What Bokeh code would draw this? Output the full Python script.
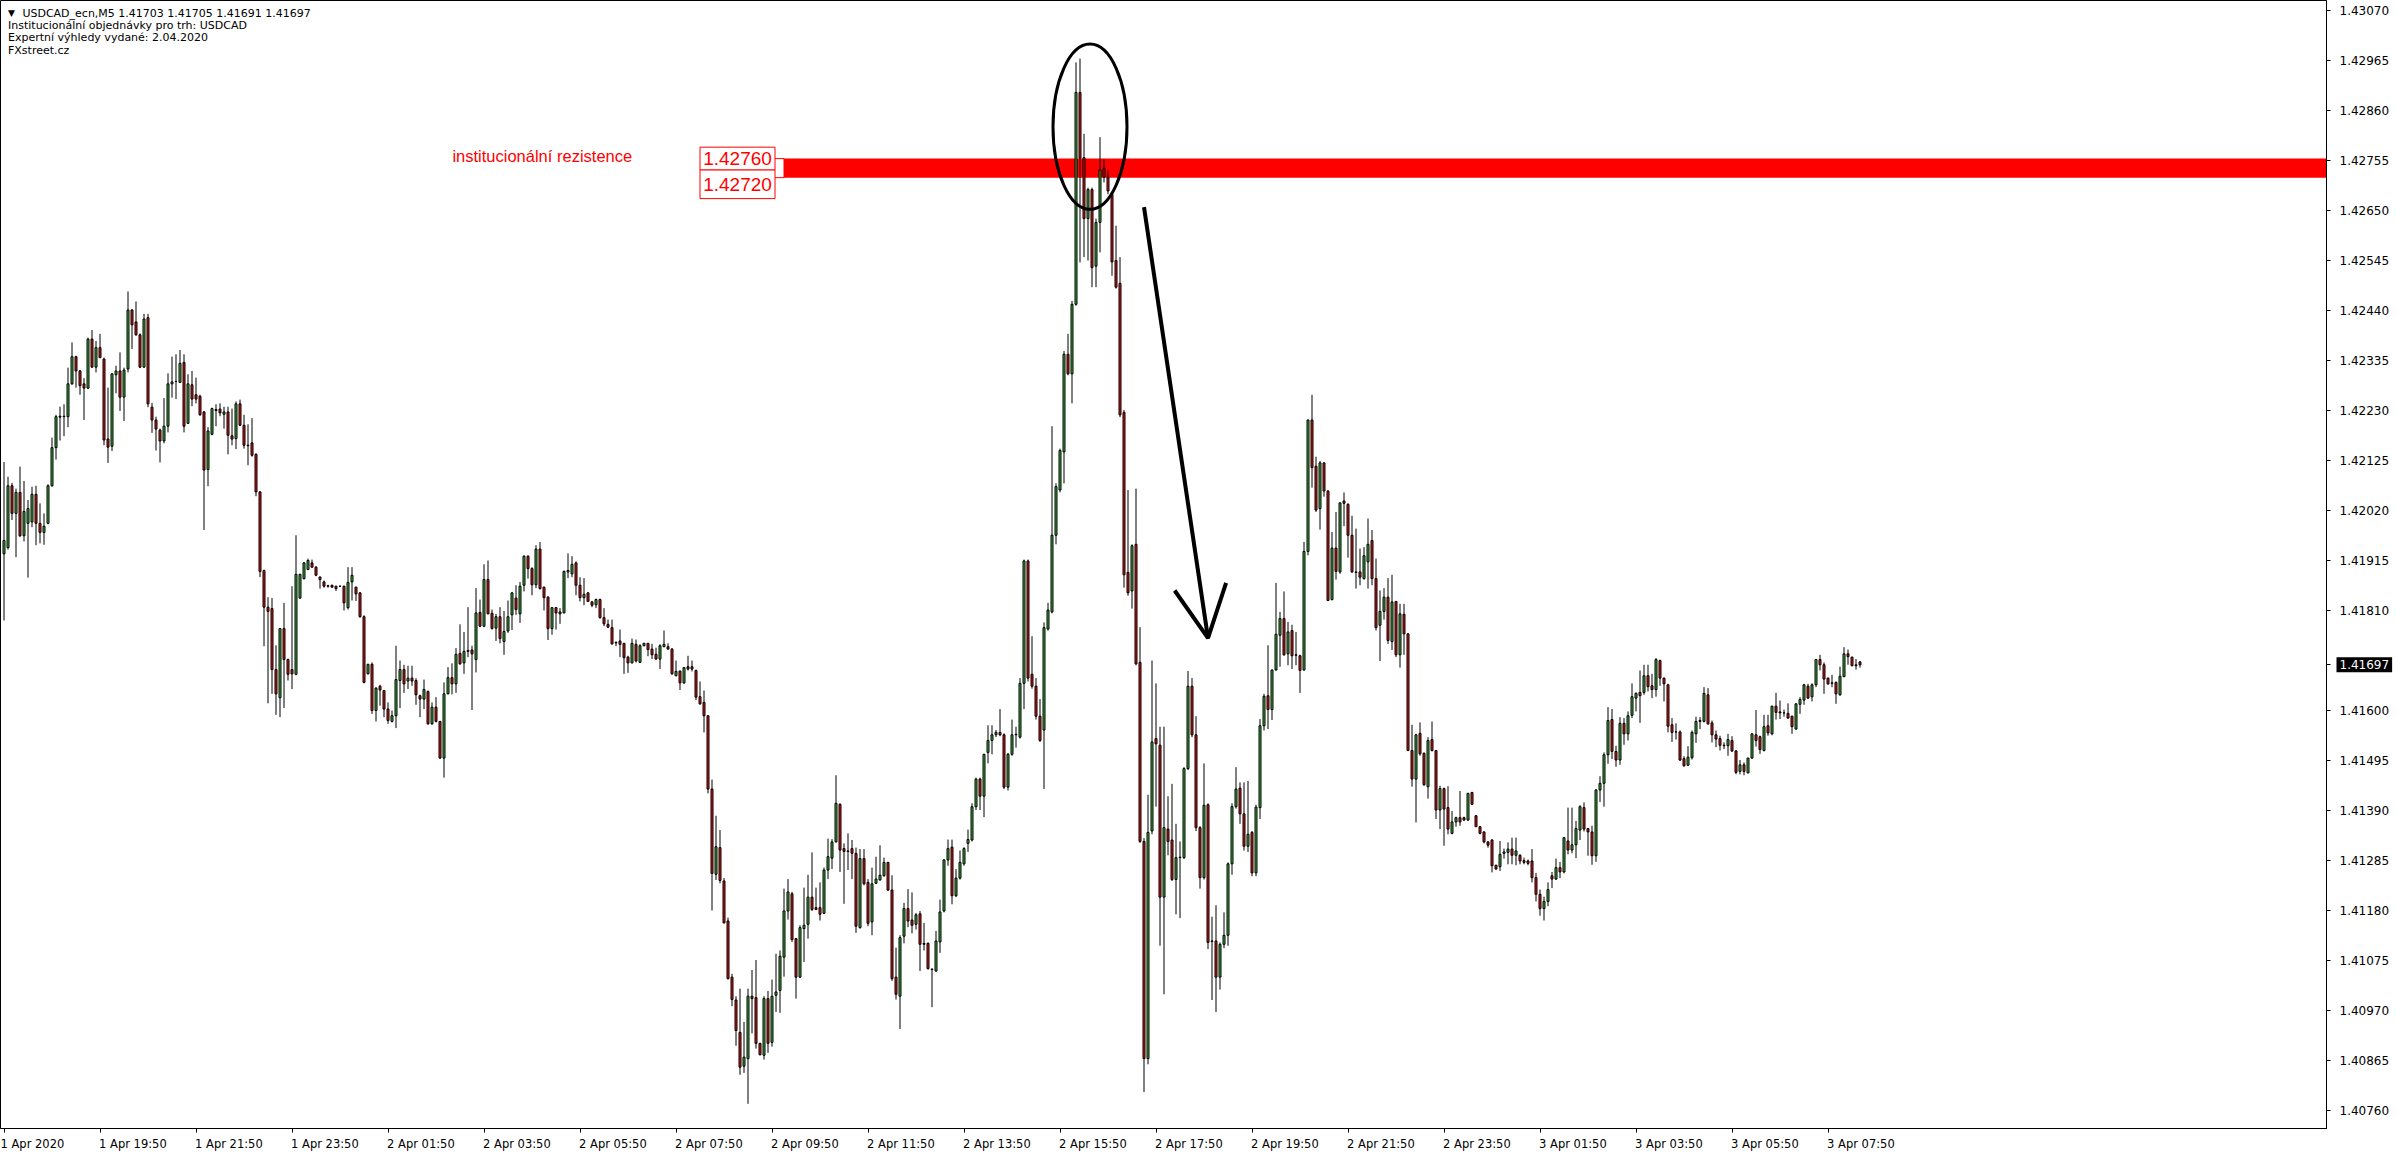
import numpy as np
from bokeh.plotting import figure
from bokeh.models import Range1d, FixedTicker, PrintfTickFormatter, Arrow, OpenHead, ColumnDataSource, Label
from bokeh.core.properties import value
from bokeh.embed import file_html
from bokeh.resources import INLINE

# ---- data: USDCAD M5 candles, prices in points (1e-5) ----
open_pts = [
141930,141943,142073,142015,142059,141968,141994,141997,142055,141994,
141975,141994,142073,142153,142217,142218,142218,142287,142344,142314,
142287,142278,142381,142322,142363,142339,142171,142156,142306,142314,
142259,142318,142442,142417,142390,142322,142426,142238,142211,142190,
142167,142198,142287,142292,142290,142332,142204,142285,142264,142261,
142228,142107,142181,142231,142234,142223,142228,142178,142172,142245,
142200,142158,142163,142139,142060,141895,141818,141815,141687,141628,
141773,141708,141687,141677,141837,141878,141897,141911,141902,141881,
141871,141863,141864,141862,141862,141862,141817,141871,141860,141848,
141798,141678,141698,141601,141652,141643,141604,141578,141590,141664,
141687,141663,141669,141664,141632,141625,141641,141573,141608,141578,
141501,141636,141670,141657,141721,141701,141727,141728,141708,141807,
141778,141876,141805,141774,141798,141746,141768,141802,141837,141804,
141864,141925,141899,141865,141940,141860,141839,141773,141817,141808,
141806,141892,141888,141911,141864,141838,141848,141829,141823,141834,
141796,141782,141775,141744,141747,141742,141713,141701,141740,141702,
141737,141742,141730,141719,141709,141735,141735,141730,141674,141684,
141659,141693,141693,141685,141630,141618,141590,141436,141257,141313,
141243,141159,141041,140993,140925,140854,140870,141001,140998,140902,
140877,140996,140904,141003,141013,141083,141180,141216,141122,141041,
141143,141152,141209,141187,141187,141175,141266,141291,141325,141404,
141311,141306,141311,141301,141145,141290,141240,141157,141238,141245,
141254,141282,141224,141041,141001,141127,141185,141161,141152,141174,
141112,141112,141058,141054,141115,141180,141287,141314,141212,141249,
141279,141322,141329,141399,141457,141421,141513,141538,141550,141555,
141550,141440,141509,141550,141545,141658,141915,141677,141652,141589,
141560,141772,141808,141969,142064,142144,142349,142308,142454,142899,
142762,142634,142695,142534,142626,142739,142721,142685,142546,142498,
142227,141891,141852,141950,141702,141326,140870,141348,141542,141528,
141209,141352,141329,141246,141292,141292,141479,141652,141550,141355,
141250,141403,141117,141117,141041,141110,141129,141279,141399,141438,
141384,141316,141345,141260,141397,141569,141632,141603,141686,141759,
141794,141720,141769,141718,141716,141686,141935,142211,142114,142025,
142121,142062,141834,141942,141892,142041,142034,141969,141892,141892,
141878,141913,141958,141878,141780,141809,141839,141746,141830,141718,
141803,141762,141517,141457,141553,141511,141441,141540,141517,141392,
141437,141397,141343,141367,141376,141376,141371,141429,141380,141357,
141346,141325,141329,141276,141273,141301,141303,141310,141297,141297,
141286,141285,141285,141250,141215,141185,141200,141254,141247,141271,
141262,141327,141308,141319,141350,141397,141353,141346,141296,141434,
141448,141508,141582,141515,141497,141574,141552,141591,141627,141639,
141639,141674,141653,141645,141706,141669,141655,141571,141556,141556,
141500,141486,141502,141552,141578,141578,141634,141575,141550,141542,
141528,141527,141538,141516,141473,141487,141470,141501,141550,141546,
141517,141569,141552,141610,141598,141596,141595,141589,141562,141614,
141623,141652,141630,141655,141708,141697,141669,141659,141660,141634,
141672,141720,141713,141695,141703]

high_pts = [
142123,142092,142079,142067,142113,142083,142043,142071,142073,142036,
142015,142076,142174,142222,142239,142244,142321,142374,142346,142316,
142299,142384,142400,142377,142392,142342,142279,142309,142325,142353,
142321,142481,142444,142460,142393,142434,142434,142247,142218,142193,
142257,142309,142344,142349,142358,142349,142307,142314,142300,142264,
142230,142196,142237,142244,142246,142239,142239,142235,142250,142254,
142222,142202,142215,142141,142062,141897,141839,141837,141738,141774,
141827,141710,141862,141969,141888,141913,141920,141918,141904,141883,
141874,141865,141865,141863,141863,141863,141902,141902,141861,141850,
141801,141699,141702,141650,141655,141644,141618,141601,141737,141706,
141697,141695,141695,141669,141634,141666,141643,141618,141629,141579,
141660,141692,141700,141732,141782,141766,141818,141737,141858,141834,
141908,141916,141813,141804,141818,141810,141832,141850,141864,141871,
141927,141927,141902,141948,141955,141861,141841,141818,141818,141816,
141895,141931,141925,141914,141881,141879,141850,141831,141836,141836,
141816,141792,141792,141746,141771,141743,141716,141752,141750,141740,
141743,141743,141741,141733,141740,141769,141742,141732,141706,141684,
141692,141716,141706,141687,141662,141643,141591,141456,141380,141350,
141249,141166,141048,141001,141017,140947,141017,141056,141077,140903,
141001,141012,141036,141090,141097,141227,141247,141220,141123,141150,
141229,141256,141303,141229,141240,141271,141332,141331,141465,141406,
141322,141343,141329,141313,141310,141310,141247,141271,141294,141318,
141292,141283,141255,141103,141129,141197,141226,141219,141176,141180,
141155,141114,141059,141138,141204,141289,141330,141330,141268,141307,
141314,141351,141406,141460,141460,141510,141570,141570,141560,141604,
141553,141512,141582,141567,141669,141918,141918,141757,141669,141625,
141786,141827,142198,142078,142151,142356,142392,142461,142962,142970,
142812,142699,142699,142634,142805,142758,142736,142689,142619,142553,
142232,142064,141950,142067,141776,141333,141424,141706,141658,141567,
141567,141421,141447,141363,141326,141482,141684,141669,141589,141358,
141490,141406,141168,141192,141114,141177,141282,141406,141482,141450,
141450,141453,141348,141403,141583,141636,141738,141687,141869,141808,
141851,141787,141781,141766,141718,141955,142212,142264,142134,142125,
142122,142063,141976,142018,142038,142059,142036,142010,141983,141941,
141944,142004,141980,141920,141853,141858,141879,141886,141831,141825,
141825,141763,141571,141552,141576,141513,141545,141578,141518,141443,
141439,141442,141390,141378,141432,141378,141428,141430,141381,141358,
141347,141327,141331,141277,141327,141311,141324,141334,141334,141299,
141292,141288,141310,141260,141225,141210,141240,141262,141290,141283,
141335,141397,141397,141369,141402,141408,141354,141359,141436,141463,
141513,141608,141604,141527,141587,141585,141599,141658,141639,141685,
141697,141697,141678,141711,141708,141670,141657,141585,141574,141559,
141505,141526,141559,141588,141587,141650,141648,141580,141559,141548,
141534,141552,141547,141518,141497,141492,141502,141553,141602,141548,
141592,141592,141611,141638,141622,141603,141616,141590,141616,141629,
141657,141657,141658,141709,141718,141702,141670,141676,141662,141693,
141734,141729,141714,141709,141705]

low_pts = [
141790,141939,142001,141923,141965,141956,141880,141986,141948,141952,
141949,141992,142071,142128,142168,142177,142196,142285,142279,142264,
142211,142276,142321,142311,142341,142158,142121,142146,142267,142230,
142209,142311,142360,142388,142320,142321,142238,142184,142147,142122,
142162,142185,142258,142255,142289,142185,142203,142240,142246,142220,
141980,142072,142179,142198,142219,142193,142139,142158,142150,142199,
142151,142116,142134,142051,141881,141736,141616,141636,141592,141587,
141606,141664,141646,141675,141836,141876,141896,141901,141883,141857,
141859,141859,141859,141852,141861,141811,141813,141832,141831,141796,
141658,141677,141594,141578,141611,141587,141573,141576,141564,141606,
141638,141646,141653,141613,141587,141604,141571,141571,141576,141500,
141460,141635,141635,141638,141697,141678,141713,141602,141681,141776,
141776,141803,141771,141747,141742,141718,141764,141770,141802,141785,
141851,141878,141843,141858,141855,141811,141749,141760,141771,141783,
141805,141879,141881,141843,141830,141822,141829,141818,141816,141794,
141778,141774,141739,141736,141713,141678,141680,141700,141702,141701,
141736,141715,141709,141708,141688,141734,141729,141676,141673,141644,
141657,141685,141683,141623,141613,141555,141427,141181,141245,141238,
141154,141036,140980,140897,140836,140840,140775,140923,140891,140877,
140868,140882,140895,140968,140966,141042,141162,141115,140996,141040,
141073,141122,141180,141182,141160,141174,141247,141268,141324,141262,
141195,141266,141247,141134,141143,141234,141148,141129,141237,141244,
141252,141222,141033,140994,140932,141112,141146,141133,141141,141054,
141097,141057,140978,141052,141092,141177,141275,141194,141209,141246,
141275,141304,141326,141392,141392,141377,141490,141509,141545,141547,
141436,141433,141506,141523,141542,141604,141662,141647,141582,141535,
141436,141769,141805,141950,142059,142078,142305,142246,142451,142542,
142553,142546,142490,142490,142563,142710,142685,142514,142487,142217,
141859,141842,141815,141696,141323,140800,140858,141341,141399,141107,
141005,141297,141243,141173,141165,141289,141476,141545,141348,141227,
141246,141100,140993,140968,141015,141102,141107,141256,141395,141363,
141307,141304,141253,141253,141373,141559,141562,141581,141685,141693,
141716,141696,141688,141696,141638,141685,141927,142069,142018,141981,
142050,141831,141832,141876,141888,141988,141922,141890,141857,141864,
141876,141857,141864,141769,141705,141792,141741,141728,141713,141691,
141718,141516,141441,141366,141506,141443,141416,141515,141373,141352,
141317,141341,141341,141357,141359,141369,141369,141403,141357,141341,
141322,141313,141261,141267,141264,141290,141278,141278,141276,141278,
141278,141276,141240,141200,141170,141160,141190,141228,141245,141249,
141259,141299,141301,141291,141329,141347,141296,141277,141283,141409,
141399,141489,141499,141483,141487,141529,141538,141585,141599,141575,
141634,141641,141627,141630,141653,141620,141555,141535,141540,141495,
141483,141485,141498,141533,141562,141576,141571,141534,141524,141517,
141520,141506,141514,141467,141467,141465,141469,141500,141525,141510,
141515,141548,141549,141582,141583,141588,141584,141552,141561,141594,
141613,141626,141620,141650,141685,141636,141655,141650,141615,141632,
141671,141697,141694,141687,141691]

close_pts = [
141958,142073,142015,142059,141968,142019,142025,142055,141994,141975,
141988,142073,142153,142218,142219,142219,142287,142344,142314,142283,
142278,142381,142322,142363,142342,142169,142154,142308,142314,142259,
142316,142442,142411,142390,142322,142423,142245,142211,142192,142167,
142198,142287,142291,142292,142330,142198,142287,142255,142255,142222,
142106,142188,142235,142233,142226,142228,142179,142171,142245,142200,
142158,142157,142137,142060,141893,141818,141809,141687,141636,141773,
141708,141677,141678,141887,141887,141911,141916,141902,141885,141876,
141862,141862,141860,141857,141862,141827,141870,141885,141846,141798,
141660,141698,141601,141648,141644,141604,141580,141590,141666,141687,
141657,141669,141663,141634,141625,141645,141573,141608,141578,141501,
141636,141670,141657,141719,141699,141725,141725,141720,141806,141778,
141876,141804,141773,141798,141752,141767,141798,141848,141813,141862,
141925,141899,141865,141940,141857,141838,141773,141817,141806,141804,
141893,141895,141908,141864,141838,141845,141830,141822,141834,141796,
141783,141776,141741,141743,141740,141712,141701,141742,141705,141737,
141742,141729,141718,141709,141737,141740,141730,141678,141683,141659,
141691,141688,141688,141629,141615,141590,141436,141259,141315,141244,
141155,141038,140994,140929,140852,140873,141001,140996,140902,140878,
140996,140902,141001,141010,141085,141180,141220,141120,141041,141145,
141150,141209,141183,141183,141173,141266,141294,141325,141406,141308,
141305,141305,141301,141148,141290,141237,141154,141237,141247,141255,
141282,141224,141038,141005,141124,141185,141159,141150,141172,141110,
141110,141059,141057,141117,141178,141287,141311,141212,141249,141282,
141311,141330,141399,141457,141421,141509,141538,141550,141555,141550,
141440,141509,141550,141551,141658,141915,141669,141652,141589,141538,
141775,141812,141969,142071,142147,142349,142308,142454,142899,142761,
142634,142695,142531,142626,142736,142721,142692,142543,142490,142222,
141886,141848,141947,141699,141326,140870,141345,141535,141531,141209,
141355,141326,141246,141292,141293,141479,141652,141550,141355,141250,
141402,141114,141116,141041,141110,141129,141279,141399,141436,141384,
141316,141341,141260,141398,141569,141631,141603,141686,141761,141794,
141718,141766,141716,141717,141685,141935,142211,142111,142022,142121,
142062,141832,141942,141893,142037,142036,141969,141892,141891,141881,
141926,141950,141878,141775,141809,141839,141748,141829,141718,141804,
141762,141517,141457,141550,141510,141445,141538,141517,141392,141437,
141394,141352,141367,141376,141367,141371,141427,141404,141357,141343,
141325,141318,141275,141268,141299,141304,141310,141297,141306,141285,
141282,141280,141250,141215,141185,141200,141225,141247,141271,141262,
141334,141308,141319,141353,141399,141352,141346,141296,141434,141448,
141508,141580,141515,141497,141574,141552,141590,141630,141637,141632,
141674,141651,141645,141708,141669,141657,141568,141555,141556,141497,
141485,141503,141555,141578,141580,141637,141573,141550,141541,141528,
141527,141540,141516,141471,141487,141473,141501,141552,141538,141519,
141567,141554,141610,141597,141596,141596,141585,141567,141615,141624,
141655,141627,141655,141708,141697,141667,141657,141658,141636,141673,
141720,141714,141695,141697,141697]

time_labels = ["1 Apr 2020", "1 Apr 19:50", "1 Apr 21:50", "1 Apr 23:50",
               "2 Apr 01:50", "2 Apr 03:50", "2 Apr 05:50", "2 Apr 07:50",
               "2 Apr 09:50", "2 Apr 11:50", "2 Apr 13:50", "2 Apr 15:50",
               "2 Apr 17:50", "2 Apr 19:50", "2 Apr 21:50", "2 Apr 23:50",
               "3 Apr 01:50", "3 Apr 03:50", "3 Apr 05:50", "3 Apr 07:50"]
bars_per_label = 24
price_tick_first = 1.40760
price_tick_step = 0.00105
price_tick_count = 23

zone_top = 1.42760
zone_bottom = 1.42720
zone_start_bar = 195
zone_text = "institucionální rezistence"
last_price = 1.41697
header_lines = ["USDCAD_ecn,M5  1.41703 1.41705 1.41691 1.41697",
                "Institucionální objednávky pro trh: USDCAD",
                "Expertní výhledy vydané: 2.04.2020",
                "FXstreet.cz"]

# ---- build ----
o = np.array(open_pts) / 1e5
h = np.array(high_pts) / 1e5
l = np.array(low_pts) / 1e5
c = np.array(close_pts) / 1e5
idx = np.arange(len(o))
GREEN = "#34b434"
RED = "#ec1010"
colors = [GREEN if cc >= oo else RED for oo, cc in zip(o, c)]
src = ColumnDataSource(dict(x=idx, o=o, h=h, l=l, c=c,
                            top=np.maximum(o, c), bottom=np.minimum(o, c), color=colors))

FW, FH = 2326, 1128
PX_PER_BAR = 4.0
PX_PER_PRICE = 50.0 / 0.00105
x0 = -0.875
y1 = 1.43092
p = figure(frame_width=FW, frame_height=FH, output_backend="svg", toolbar_location=None,
           x_range=Range1d(x0, x0 + FW / PX_PER_BAR),
           y_range=Range1d(y1 - FH / PX_PER_PRICE, y1),
           y_axis_location="right", min_border_left=0, min_border_top=0,
           min_border_bottom=0, min_border_right=0)
p.xgrid.visible = False
p.ygrid.visible = False
p.outline_line_color = "black"
p.outline_line_width = 1
p.background_fill_color = "white"
p.border_fill_color = "white"

# zone (behind candles)
p.quad(left=zone_start_bar, right=2000, top=zone_top, bottom=zone_bottom,
       fill_color="#ff0000", line_color=None)

p.segment(x0="x", y0="l", x1="x", y1="h", source=src, line_color="black", line_width=1)
p.vbar(x="x", top="top", bottom="bottom", width=0.5, source=src,
       fill_color="color", line_color="black", line_width=1)

# y axis
Y_STANDOFF = 9
yt = [round(price_tick_first + k * price_tick_step, 5) for k in range(price_tick_count)]
yt = [t for t in yt if abs(t - last_price) > 0.0003] + [last_price]
p.yaxis.ticker = FixedTicker(ticks=yt)
p.yaxis.formatter = PrintfTickFormatter(format="%.5f")
p.yaxis.major_tick_in = 0
p.yaxis.major_tick_out = 4
p.yaxis.minor_tick_line_color = None
p.yaxis.axis_line_color = "black"
p.yaxis.major_label_text_font = "DejaVu Sans"
p.yaxis.major_label_text_font_size = "12px"
p.yaxis.major_label_text_color = "black"
p.yaxis.major_label_standoff = Y_STANDOFF

# x axis: labels start at their tick (MT4 style) -> pad left with no-break spaces
EM = {"0": .636, "1": .636, "2": .636, "3": .636, "4": .636, "5": .636, "6": .636,
      "7": .636, "8": .636, "9": .636, " ": .318, ":": .337, "A": .684, "p": .635, "r": .411}
def left_pad(s):
    return "\u00a0" * int(round(sum(EM.get(ch, .6) for ch in s) / .318)) + s

xt = [k * bars_per_label for k in range(len(time_labels))]
p.xaxis.ticker = FixedTicker(ticks=xt)
p.xaxis.major_label_overrides = {t: (s if k == 0 else left_pad(s))
                                 for k, (t, s) in enumerate(zip(xt, time_labels))}
p.xaxis.major_tick_in = 0
p.xaxis.major_tick_out = 4
p.xaxis.minor_tick_line_color = None
p.xaxis.axis_line_color = "black"
p.xaxis.major_label_text_font = "DejaVu Sans"
p.xaxis.major_label_text_font_size = "11.5px"
p.xaxis.major_label_text_color = "black"
p.xaxis.major_label_standoff = 4

# header text
ys = [1.43065, 1.43040, 1.43014, 1.42988]
p.text(x=[1.0], y=[ys[0]], text=["\u25bc"], text_font=value("DejaVu Sans"),
       text_font_size="9px", text_baseline="middle", text_color="black")
p.text(x=[4.6], y=[ys[0]], text=[header_lines[0]], text_font=value("DejaVu Sans"),
       text_font_size="11px", text_baseline="middle", text_color="black")
p.text(x=[1.0] * 3, y=ys[1:], text=header_lines[1:], text_font=value("DejaVu Sans"),
       text_font_size="11px", text_baseline="middle", text_color="black")

# zone annotation
p.text(x=[112.1], y=[1.42765], text=[zone_text], text_font=value("Liberation Sans"),
       text_font_size="16.5px", text_baseline="alphabetic", text_color="#ff0000")
box_l, box_r = 174.0, 192.75
p.quad(left=[box_l, box_l], right=[box_r, box_r],
       top=[zone_top + 0.00024, zone_top - 0.00024],
       bottom=[zone_top - 0.00024, zone_bottom - 0.00044],
       fill_color="white", line_color="#ff0000", line_width=1)
p.text(x=[(box_l + box_r) / 2] * 2,
       y=[zone_top, (zone_top - 0.00024 + zone_bottom - 0.00044) / 2],
       text=["%.5f" % zone_top, "%.5f" % zone_bottom], text_font=value("Liberation Sans"),
       text_font_size="19px", text_align="center", text_baseline="middle", text_color="#ff0000")
p.segment(x0=[box_r, box_r, zone_start_bar], y0=[zone_top, zone_bottom, zone_bottom],
          x1=[zone_start_bar] * 3, y1=[zone_top, zone_bottom, zone_top],
          line_color="#ff0000", line_width=1)

# ellipse & arrow
p.ellipse(x=[271.5], y=[1.42827], width=18.5, height=0.00347,
          fill_color=None, line_color="black", line_width=3)
p.add_layout(Arrow(x_start=285, y_start=1.42658, x_end=301, y_end=1.41753,
                   line_color="black", line_width=4,
                   end=OpenHead(size=52, line_color="black", line_width=4)))

# last price tag on the price axis (black box, white text), kept in a side panel
tag = Label(x=x0 + FW / PX_PER_BAR, y=last_price, x_offset=4 + Y_STANDOFF - 3,
            text="%.5f" % last_price, text_color="white", background_fill_color="black",
            text_font="DejaVu Sans", text_font_size="12px", text_baseline="middle",
            level="overlay")
try:
    tag.padding = 3
except Exception:
    pass
p.add_layout(tag, "right")

open("out.html", "w").write(file_html(p, INLINE))
